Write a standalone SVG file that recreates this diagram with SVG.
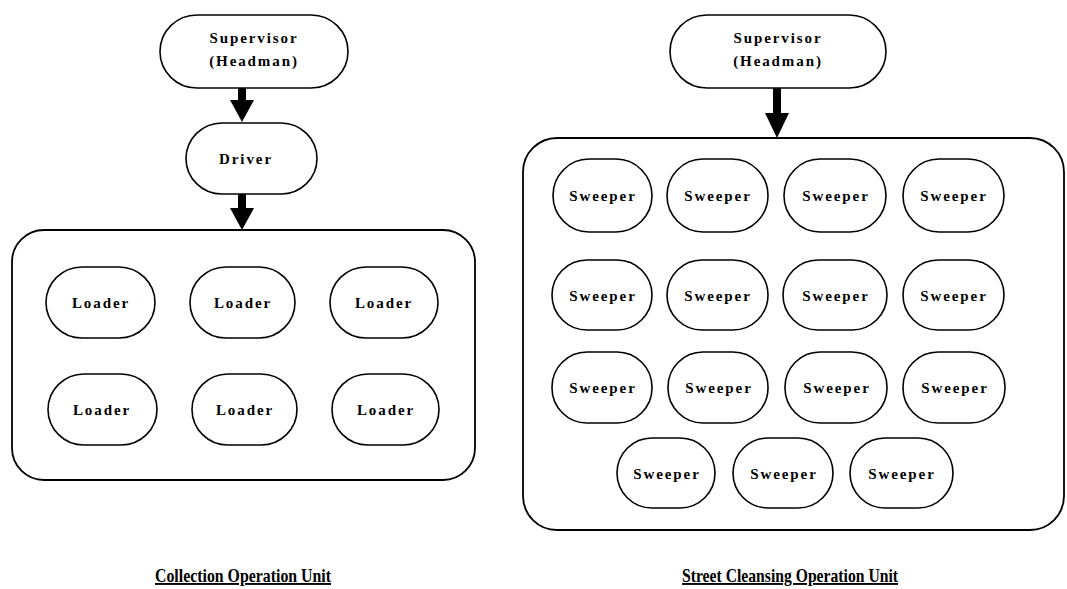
<svg xmlns="http://www.w3.org/2000/svg" width="1067" height="589" viewBox="0 0 1067 589">
<style>
.n{fill:#fff;stroke:#000;stroke-width:1.6}
.c{fill:none;stroke:#000;stroke-width:1.8}
.t{font-family:"Liberation Serif",serif;font-weight:bold;font-size:15px;letter-spacing:1.9px;text-anchor:middle;fill:#000}
.h{font-family:"Liberation Serif",serif;font-weight:bold;font-size:19px;text-anchor:middle;fill:#000;text-decoration:underline}
.s{stroke:#000;stroke-width:8}
</style>
<rect width="1067" height="589" fill="#fff"/>

<g id="collection-unit-box"><rect class="c" x="12" y="230" width="463" height="250" rx="32" ry="32"/></g>
<g id="cleansing-unit-box"><rect class="c" x="523" y="138" width="541" height="392" rx="34" ry="34"/></g>

<g id="connectors">
<line class="s" x1="242" y1="88" x2="242" y2="101"/>
<path d="M230,100 L254,100 L242,122 Z" fill="#000"/>
<line class="s" x1="242" y1="194" x2="242" y2="209"/>
<path d="M230,208 L254,208 L242,230 Z" fill="#000"/>
<line class="s" x1="777" y1="88" x2="777" y2="114"/>
<path d="M765,113 L789,113 L777,138 Z" fill="#000"/>
</g>

<g id="supervisor-left"><rect class="n" x="160" y="15" width="188" height="73" rx="37" ry="37"/>
<text class="t" x="254" y="43">Supervisor</text><text class="t" x="254" y="66">(Headman)</text></g>
<g id="driver"><rect class="n" x="186" y="123" width="131" height="71" rx="36" ry="36"/>
<text class="t" x="246" y="164">Driver</text></g>

<g id="loader-1"><rect class="n" x="46" y="267" width="109" height="71" rx="36" ry="36"/><text class="t" x="101" y="308">Loader</text></g>
<g id="loader-2"><rect class="n" x="190" y="267" width="105" height="71" rx="36" ry="36"/><text class="t" x="243" y="308">Loader</text></g>
<g id="loader-3"><rect class="n" x="330" y="267" width="108" height="71" rx="36" ry="36"/><text class="t" x="384" y="308">Loader</text></g>
<g id="loader-4"><rect class="n" x="48" y="374" width="109" height="71" rx="36" ry="36"/><text class="t" x="102" y="415">Loader</text></g>
<g id="loader-5"><rect class="n" x="192" y="374" width="105" height="71" rx="36" ry="36"/><text class="t" x="245" y="415">Loader</text></g>
<g id="loader-6"><rect class="n" x="332" y="374" width="107" height="71" rx="36" ry="36"/><text class="t" x="386" y="415">Loader</text></g>

<g id="supervisor-right"><rect class="n" x="670" y="15" width="216" height="73" rx="37" ry="37"/>
<text class="t" x="778" y="43">Supervisor</text><text class="t" x="778" y="66">(Headman)</text></g>

<g id="sweeper-1"><rect class="n" x="553" y="159" width="99" height="73" rx="36" ry="37"/><text class="t" x="603" y="201">Sweeper</text></g>
<g id="sweeper-2"><rect class="n" x="667" y="159" width="101" height="73" rx="36" ry="37"/><text class="t" x="718" y="201">Sweeper</text></g>
<g id="sweeper-3"><rect class="n" x="784" y="159" width="102" height="73" rx="36" ry="37"/><text class="t" x="836" y="201">Sweeper</text></g>
<g id="sweeper-4"><rect class="n" x="903" y="159" width="101" height="73" rx="36" ry="37"/><text class="t" x="954" y="201">Sweeper</text></g>

<g id="sweeper-5"><rect class="n" x="552" y="260" width="100" height="70" rx="35" ry="35"/><text class="t" x="603" y="301">Sweeper</text></g>
<g id="sweeper-6"><rect class="n" x="667" y="260" width="101" height="70" rx="35" ry="35"/><text class="t" x="718" y="301">Sweeper</text></g>
<g id="sweeper-7"><rect class="n" x="783" y="260" width="104" height="70" rx="35" ry="35"/><text class="t" x="836" y="301">Sweeper</text></g>
<g id="sweeper-8"><rect class="n" x="903" y="260" width="101" height="70" rx="35" ry="35"/><text class="t" x="954" y="301">Sweeper</text></g>

<g id="sweeper-9"><rect class="n" x="552" y="352" width="100" height="71" rx="35" ry="35"/><text class="t" x="603" y="393">Sweeper</text></g>
<g id="sweeper-10"><rect class="n" x="668" y="352" width="100" height="71" rx="35" ry="35"/><text class="t" x="719" y="393">Sweeper</text></g>
<g id="sweeper-11"><rect class="n" x="785" y="352" width="102" height="71" rx="35" ry="35"/><text class="t" x="837" y="393">Sweeper</text></g>
<g id="sweeper-12"><rect class="n" x="903" y="352" width="102" height="71" rx="35" ry="35"/><text class="t" x="955" y="393">Sweeper</text></g>

<g id="sweeper-13"><rect class="n" x="617" y="438" width="98" height="70" rx="35" ry="35"/><text class="t" x="667" y="479">Sweeper</text></g>
<g id="sweeper-14"><rect class="n" x="733" y="438" width="100" height="70" rx="35" ry="35"/><text class="t" x="784" y="479">Sweeper</text></g>
<g id="sweeper-15"><rect class="n" x="850" y="438" width="103" height="70" rx="35" ry="35"/><text class="t" x="902" y="479">Sweeper</text></g>

<text class="h" x="243" y="582" textLength="176" lengthAdjust="spacingAndGlyphs">Collection Operation Unit</text>
<text class="h" x="790" y="582" textLength="216" lengthAdjust="spacingAndGlyphs">Street Cleansing Operation Unit</text>
</svg>
